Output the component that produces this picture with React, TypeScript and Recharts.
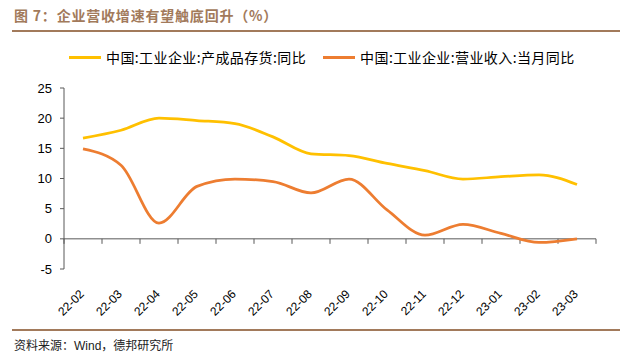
import { Line, LineChart, ReferenceLine, XAxis, YAxis } from "recharts";

const months = [
  "22-02", "22-03", "22-04", "22-05", "22-06", "22-07", "22-08",
  "22-09", "22-10", "22-11", "22-12", "23-01", "23-02", "23-03",
];
const inventoryYoy = [16.7, 18.0, 20.0, 19.6, 19.1, 16.9, 14.1, 13.8, 12.5, 11.3, 9.9, 10.3, 10.6, 9.0];
const revenueYoy = [14.9, 12.2, 2.6, 8.7, 9.9, 9.5, 7.6, 9.9, 4.8, 0.6, 2.4, 0.9, -0.6, 0.0];
const yTicks = [-5, 0, 5, 10, 15, 20, 25];

const series = [
  { key: "inventory", name: "中国:工业企业:产成品存货:同比", color: "#FFC000" },
  { key: "revenue", name: "中国:工业企业:营业收入:当月同比", color: "#ED7D31" },
];

const data = months.map((m, i) => ({ month: m, inventory: inventoryYoy[i], revenue: revenueYoy[i] }));

const AXIS = "#595959";
const BROWN = "#A27A5B";
const CJK = '"Noto Sans CJK SC", "Liberation Sans", sans-serif';

function MonthTick({ x, y, payload }: { x?: number; y?: number; payload?: { value: string } }) {
  return (
    <g transform={`translate(${(x ?? 0) - 1},${(y ?? 0) + 15}) rotate(-45)`}>
      <text x={0} y={0} dy={4} textAnchor="end" fontSize={12} fill="#000" fontFamily='"Liberation Sans", Arial, sans-serif'>
        {payload?.value}
      </text>
    </g>
  );
}

// x axis sits on the zero line, with ticks between categories
function ZeroAxis(props: { x1?: number; x2?: number; y1?: number }) {
  const { x1 = 0, x2 = 0, y1 = 0 } = props;
  const step = (x2 - x1) / months.length;
  return (
    <g>
      <line x1={x1} x2={x2} y1={y1} y2={y1} stroke={AXIS} strokeWidth={1} />
      {Array.from({ length: months.length + 1 }, (_, i) => (
        <line key={i} x1={x1 + i * step} x2={x1 + i * step} y1={y1} y2={y1 + 5} stroke={AXIS} strokeWidth={1} />
      ))}
    </g>
  );
}

export default function App() {
  return (
    <div style={{ position: "absolute", left: 0, top: 0, width: 620, height: 354, background: "#fff", fontFamily: CJK }}>
      <div style={{ position: "absolute", left: 14, top: 5, fontSize: 14, fontWeight: 700, color: BROWN, letterSpacing: 0.8 }}>
        图 7：企业营收增速有望触底回升（%）
      </div>
      <div style={{ position: "absolute", left: 12, right: 0, top: 30, height: 2, background: BROWN }} />

      <div style={{ position: "absolute", left: 69, top: 47, display: "flex", alignItems: "center", fontSize: 14, color: "#000" }}>
        {series.map((s, i) => (
          <div key={s.key} style={{ display: "flex", alignItems: "center", marginRight: i === 0 ? 17 : 0 }}>
            <span style={{ display: "inline-block", width: 32, height: 3, background: s.color, marginRight: 5 }} />
            <span style={{ letterSpacing: 0.4 }}>{s.name}</span>
          </div>
        ))}
      </div>

      <div style={{ position: "absolute", left: 0, top: 0 }}>
        <LineChart width={620} height={328} data={data} margin={{ top: 88, right: 24, bottom: 0, left: 0 }}>
          <XAxis dataKey="month" scale="band" axisLine={false} tickLine={false} interval={0} height={59} tick={<MonthTick />} />
          <YAxis
            domain={[-5, 25]}
            ticks={yTicks}
            width={64}
            tick={{ fontSize: 13, fill: "#000", fontFamily: '"Liberation Sans", Arial, sans-serif' }}
            tickSize={4}
            tickMargin={8}
            axisLine={{ stroke: AXIS }}
            tickLine={{ stroke: AXIS }}
            interval={0}
          />
          <ReferenceLine y={0} shape={<ZeroAxis />} />
          <Line type="monotone" dataKey="inventory" name={series[0].name} stroke={series[0].color} strokeWidth={2.75} dot={false} isAnimationActive={false} />
          <Line type="monotone" dataKey="revenue" name={series[1].name} stroke={series[1].color} strokeWidth={2.75} dot={false} isAnimationActive={false} />
        </LineChart>
      </div>

      <div style={{ position: "absolute", left: 12, right: 0, top: 329, height: 1.5, background: BROWN }} />
      <div style={{ position: "absolute", left: 14, top: 336, fontSize: 12, color: "#222" }}>
        资料来源：<span style={{ fontFamily: '"Liberation Sans", Arial, sans-serif' }}>Wind</span>，德邦研究所
      </div>
    </div>
  );
}
